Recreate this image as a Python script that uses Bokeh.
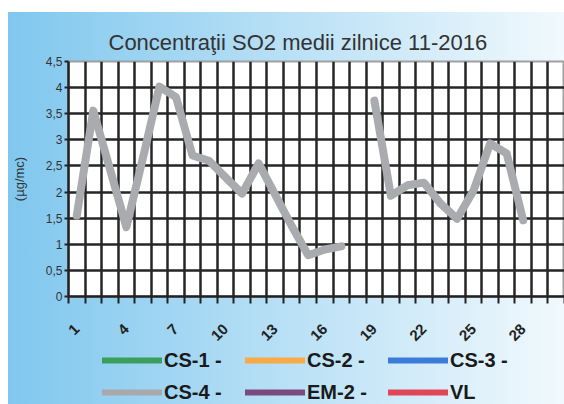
import math
import numpy as np
from bokeh.plotting import figure
from bokeh.layouts import column
from bokeh.models import (FixedTicker, Range1d, Legend, LegendItem,
                          CustomJSTickFormatter)
from bokeh.embed import file_html
from bokeh.resources import INLINE

# ---------------- data ----------------
days = list(range(1, 31))
cs4 = [1.55, 3.56, 2.45, 1.33, 2.65, 4.02, 3.82, 2.70, 2.60, 2.28,
       1.97, 2.55, 1.95, 1.35, 0.79, 0.90, 0.96, None, 3.75, 1.93,
       2.13, 2.18, 1.78, 1.49, 2.03, 2.93, 2.74, 1.46, None, None]
series_names = ["CS-1 -", "CS-2 -", "CS-3 -", "CS-4 -", "EM-2 -", "VL"]
series_colors = ["#3a9f5c", "#f7aa45", "#3b7cd9", "#a9a9ab", "#7a4a7f", "#e04658"]
x_label_days = [1, 4, 7, 10, 13, 16, 19, 22, 25, 28]
y_ticks = [0, 0.5, 1, 1.5, 2, 2.5, 3, 3.5, 4, 4.5]
title_text = "Concentraţii SO2 medii zilnice 11-2016"
y_title = "(µg/mc)"

cs4_arr = np.array([np.nan if v is None else v for v in cs4], dtype=float)
day_edges = [d + 0.5 for d in range(0, 31)]

FONT = "Liberation Sans"

p = figure(frame_width=496, frame_height=235,
           x_range=Range1d(0.5, 30.5), y_range=Range1d(0, 4.5),
           output_backend="svg", toolbar_location=None,
           min_border_left=68, min_border_right=0,
           min_border_top=61, min_border_bottom=48,
           background_fill_color="white",
           border_fill_color=None, border_fill_alpha=0,
           outline_line_color="#a0a0a0", outline_line_width=2)

# title
p.title.text = title_text
p.title.align = "left"
p.title.offset = 40
p.title.standoff = 13
p.title.text_font = FONT
p.title.text_font_size = "22px"
p.title.text_font_style = "normal"
p.title.text_color = "#333333"

# grids (vertical lines at day boundaries)
p.xgrid.grid_line_color = None
p.xgrid.minor_grid_line_color = "#262626"
p.xgrid.minor_grid_line_width = 2.5
p.ygrid.ticker = FixedTicker(ticks=y_ticks[:-1])
p.ygrid.grid_line_color = "#262626"
p.ygrid.grid_line_width = 2.5

# x axis: labels every 3 days, tick marks at day boundaries
p.xaxis.ticker = FixedTicker(ticks=x_label_days, minor_ticks=day_edges)
p.xaxis.major_tick_out = 0
p.xaxis.major_tick_in = 0
p.xaxis.minor_tick_out = 7
p.xaxis.minor_tick_in = 0
p.xaxis.minor_tick_line_color = "#222222"
p.xaxis.minor_tick_line_width = 2
p.xaxis.axis_line_color = "#222222"
p.xaxis.axis_line_width = 2.5
p.xaxis.major_label_orientation = math.pi / 4
p.xaxis.major_label_text_font = FONT
p.xaxis.major_label_text_font_style = "bold"
p.xaxis.major_label_text_font_size = "15px"
p.xaxis.major_label_text_color = "#222222"
p.xaxis.major_label_standoff = 23

# y axis
p.yaxis.ticker = FixedTicker(ticks=y_ticks)
p.yaxis.formatter = CustomJSTickFormatter(
    code="var s = (Math.round(tick*10)/10).toString(); return s.replace('.', ',');")
p.yaxis.major_tick_out = 4
p.yaxis.major_tick_in = 0
p.yaxis.major_tick_line_color = "#222222"
p.yaxis.major_tick_line_width = 2
p.yaxis.minor_tick_line_color = None
p.yaxis.axis_line_color = "#222222"
p.yaxis.axis_line_width = 2.5
p.yaxis.major_label_text_font = FONT
p.yaxis.major_label_text_font_size = "12px"
p.yaxis.major_label_text_color = "#333333"
p.yaxis.major_label_standoff = 2
p.yaxis.axis_label = y_title
p.yaxis.axis_label_text_font = FONT
p.yaxis.axis_label_text_font_size = "13px"
p.yaxis.axis_label_text_font_style = "normal"
p.yaxis.axis_label_text_color = "#333333"
p.yaxis.axis_label_standoff = 16

# data line
p.line(days, cs4_arr, line_width=8, line_color="#a9abae",
       line_join="round", line_cap="round")

# ---------------- legend strip ----------------
lf = figure(width=564, height=60, x_range=Range1d(0, 1), y_range=Range1d(0, 1),
            output_backend="svg", toolbar_location=None,
            x_axis_location=None, y_axis_location=None,
            min_border_left=0, min_border_right=0,
            min_border_top=0, min_border_bottom=0,
            background_fill_color=None, border_fill_color=None,
            border_fill_alpha=0, outline_line_color=None)
lf.xgrid.visible = False
lf.ygrid.visible = False

items = []
for name, col in zip(series_names, series_colors):
    r = lf.line(x=[np.nan], y=[np.nan], line_width=6, line_color=col,
                line_cap="round")
    items.append(LegendItem(label=name, renderers=[r]))

legend = Legend(items=items, orientation="horizontal", ncols=3,
                location=(34, 4),
                glyph_width=60, glyph_height=24, label_height=24,
                label_width=73, label_standoff=2, spacing=8,
                label_text_font=FONT, label_text_font_size="20px",
                label_text_font_style="bold", label_text_color="#1a1a1a",
                background_fill_alpha=0, border_line_color=None,
                padding=0, margin=0)
lf.add_layout(legend, "center")

layout = column(p, lf, spacing=0,
                styles={"background": "linear-gradient(to bottom, #ffffff 12px, transparent 12px), "
                                      "linear-gradient(to right, #ffffff 8px, transparent 8px), "
                                      "linear-gradient(to right, #80c7ee 8px, #f1f9fd)"})

open("out.html", "w").write(file_html(layout, INLINE))
